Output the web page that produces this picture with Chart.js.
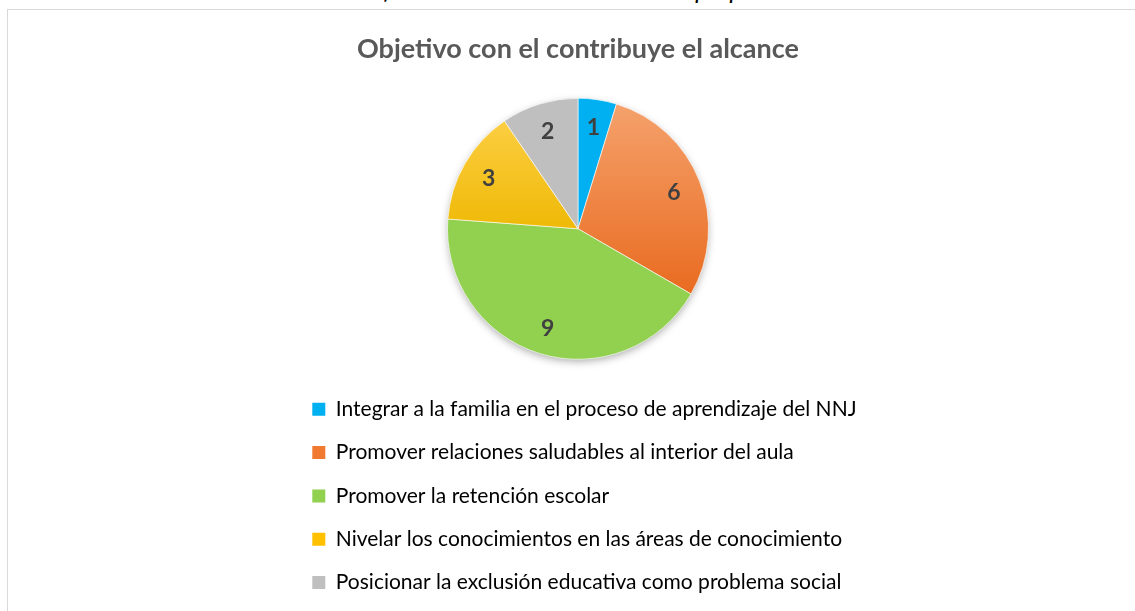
<!DOCTYPE html>
<html>
<head>
<meta charset="utf-8">
<script src="https://cdn.jsdelivr.net/npm/chart.js@4.4.0/dist/chart.umd.min.js"></script>
<style>
  html, body { margin: 0; padding: 0; width: 1135px; height: 611px; overflow: hidden; background: #fff; }
  #caption { position: absolute; left: -11px; top: -23px; width: 1135px; text-align: center; font: italic 25px Lato, sans-serif; line-height: 25px; color: #000; white-space: nowrap; }
  #frame { position: absolute; left: 7px; top: 9px; width: 1140px; height: 700px; border: 1px solid #d9d9d9; box-sizing: border-box; }
  #wrap { position: absolute; left: 290px; top: 10px; width: 576px; height: 601px; }
</style>
</head>
<body>
<div id="caption">Gráfico Nº 3. Fuente: elaboración propia.</div>
<div id="frame"></div>
<div id="wrap"><canvas id="chartCanvas"></canvas></div>
<script>
var chartTitle = 'Objetivo con el contribuye el alcance';
var categories = [
  'Integrar a la familia en el proceso de aprendizaje del NNJ',
  'Promover relaciones saludables al interior del aula',
  'Promover la retención escolar',
  'Nivelar los conocimientos en las áreas de conocimiento',
  'Posicionar la exclusión educativa como problema social'
];
var counts = [1, 6, 9, 3, 2];
var sliceColors = ['#00B0F0', '#F07A30', '#92D050', '#FFC000', '#BFBFBF'];

var FONT = 'Lato, Carlito, Calibri, sans-serif';

// office-like vertical shading for orange and yellow slices
function sliceFill(context) {
  var i = context.dataIndex;
  var chart = context.chart;
  var area = chart.chartArea;
  if (!area || (i !== 1 && i !== 3)) return sliceColors[i];
  var cy = (area.top + area.bottom) / 2;
  var g = chart.ctx.createLinearGradient(0, cy - 131, 0, cy + 131);
  if (i === 1) {
    g.addColorStop(0, '#F5A36E');
    g.addColorStop(0.75, '#E96B20');
    g.addColorStop(1, '#E46117');
  } else {
    g.addColorStop(0, '#FFD24E');
    g.addColorStop(0.55, '#EDB700');
    g.addColorStop(1, '#E0AA00');
  }
  return g;
}

var pieShadow = {
  id: 'pieShadow',
  beforeDatasetsDraw: function (chart) {
    var arc = chart.getDatasetMeta(0).data[0];
    if (!arc) return;
    var p = arc.getProps(['x', 'y', 'outerRadius'], true);
    var ctx = chart.ctx;
    ctx.save();
    ctx.shadowColor = 'rgba(0,0,0,0.35)';
    ctx.shadowBlur = 8;
    ctx.shadowOffsetY = 3;
    ctx.beginPath();
    ctx.arc(p.x, p.y, p.outerRadius - 1, 0, Math.PI * 2);
    ctx.fillStyle = '#ffffff';
    ctx.fill();
    ctx.restore();
  }
};

var valueLabels = {
  id: 'valueLabels',
  afterDatasetsDraw: function (chart) {
    var ctx = chart.ctx;
    var meta = chart.getDatasetMeta(0);
    ctx.save();
    ctx.font = 'bold 23px ' + FONT;
    ctx.fillStyle = '#404040';
    ctx.textAlign = 'center';
    ctx.textBaseline = 'middle';
    meta.data.forEach(function (arc, i) {
      var p = arc.getProps(['x', 'y', 'startAngle', 'endAngle', 'outerRadius'], true);
      var mid = (p.startAngle + p.endAngle) / 2;
      var r = p.outerRadius * 0.79;
      ctx.fillText(String(counts[i]), p.x + Math.cos(mid) * r, p.y + Math.sin(mid) * r + 1);
    });
    ctx.restore();
  }
};

var ctx = document.getElementById('chartCanvas').getContext('2d');
new Chart(ctx, {
  type: 'pie',
  data: {
    labels: categories,
    datasets: [{
      data: counts,
      backgroundColor: sliceFill,
      borderColor: 'rgba(255,255,255,0.6)',
      borderWidth: 1,
      radius: 130.5
    }]
  },
  options: {
    responsive: true,
    maintainAspectRatio: false,
    animation: false,
    layout: { padding: { top: 0, bottom: 8, left: 0, right: 0 } },
    plugins: {
      title: {
        display: true,
        text: chartTitle,
        color: '#595959',
        font: { family: FONT, size: 27, weight: 'bold' },
        padding: { top: 22.8, bottom: 15.8 }
      },
      legend: {
        position: 'bottom',
        align: 'start',
        labels: {
          boxWidth: 13,
          boxHeight: 13,
          padding: 22.3,
          color: '#595959',
          font: { family: FONT, size: 21 },
          generateLabels: function () {
            return categories.map(function (c, i) {
              return { text: c, fillStyle: sliceColors[i], strokeStyle: sliceColors[i], lineWidth: 0, hidden: false, index: i };
            });
          }
        }
      },
      tooltip: { enabled: false }
    }
  },
  plugins: [pieShadow, valueLabels]
});
</script>
</body>
</html>
